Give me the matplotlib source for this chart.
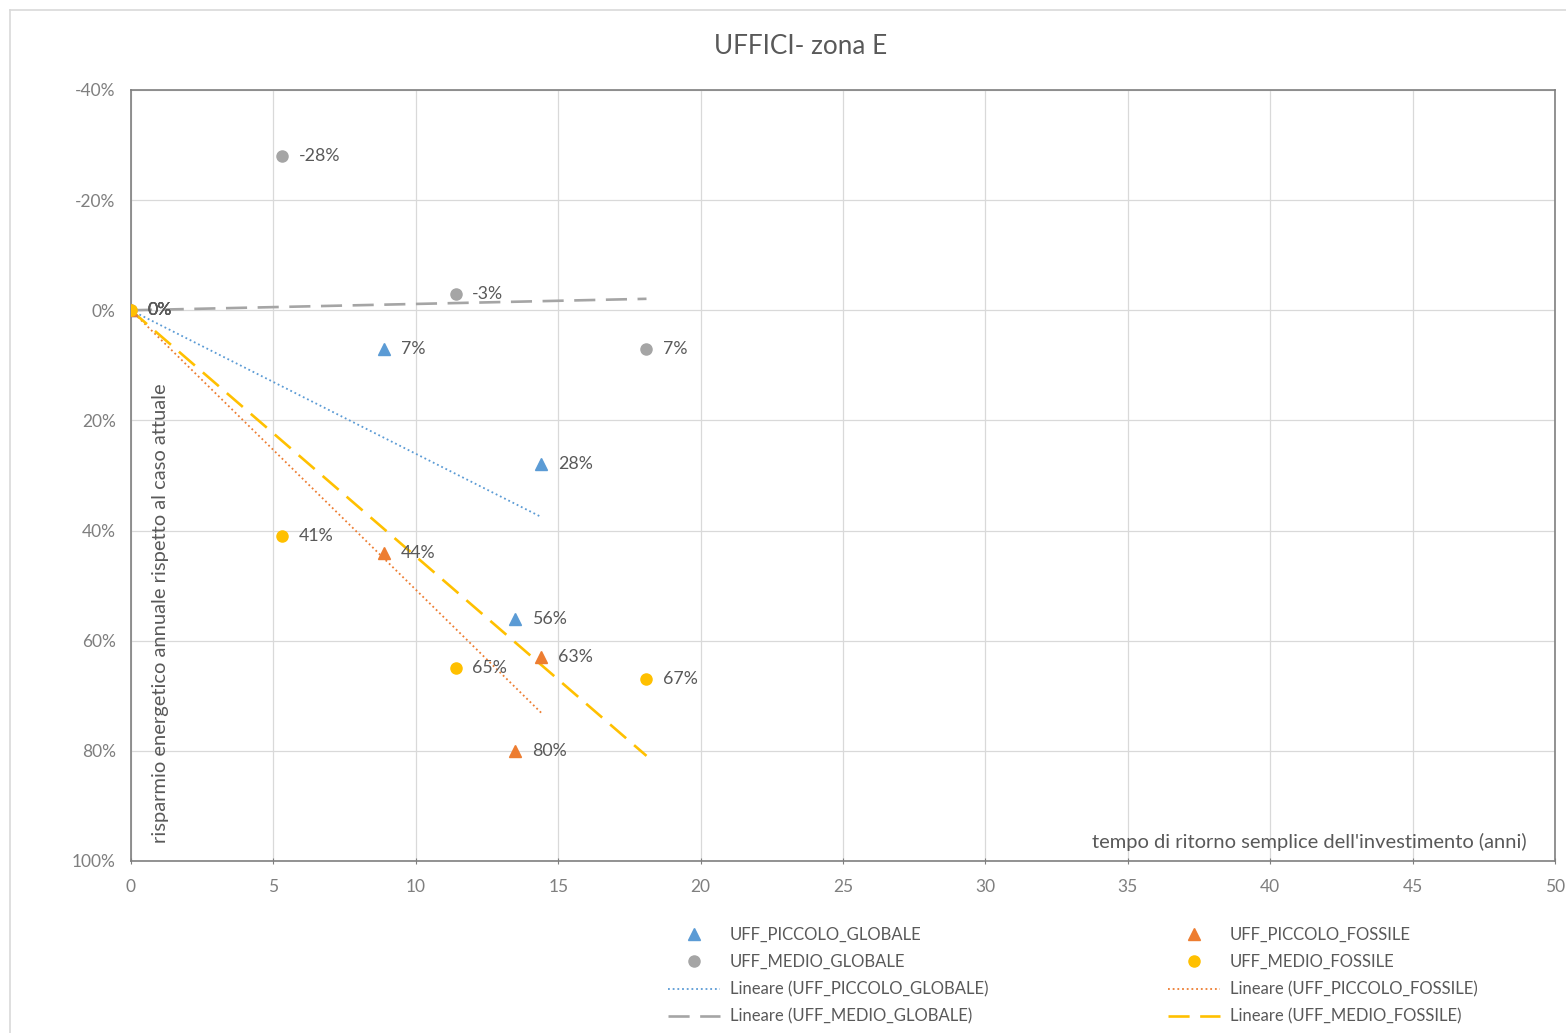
import numpy as np
import matplotlib.pyplot as plt
from matplotlib.lines import Line2D

plt.rcParams['font.family'] = ['Lato', 'DejaVu Sans']

# tempo di ritorno (anni) e risparmio (%) per ogni serie
x_piccolo = [0, 8.9, 14.4, 13.5]
x_medio = [0, 5.3, 11.4, 18.1]
piccolo_globale = [0, 7, 28, 56]
medio_globale = [0, -28, -3, 7]
piccolo_fossile = [0, 44, 63, 80]
medio_fossile = [0, 41, 65, 67]

blu = '#5B9BD5'
grigio = '#A5A5A5'
arancio = '#ED7D31'
giallo = '#FFC000'
testo = '#595959'

punteggiato = (0, (1, 1.6))
tratteggio = (0, (8, 4))


def trend(x, y):
    # retta di tendenza lineare con intercetta a zero
    x = np.array(x, dtype=float)
    y = np.array(y, dtype=float)
    k = (x * y).sum() / (x * x).sum()
    xx = np.array([0, x.max()])
    return xx, k * xx


fig = plt.figure(figsize=(15.66, 10.33), dpi=100)
ax = fig.add_axes([131/1566, 1-861/1033, 1424/1566, 771/1033])

series = [(x_piccolo, piccolo_globale, blu, '^', punteggiato, 1.3),
          (x_medio, medio_globale, grigio, 'o', tratteggio, 1.9),
          (x_piccolo, piccolo_fossile, arancio, '^', punteggiato, 1.3),
          (x_medio, medio_fossile, giallo, 'o', tratteggio, 1.9)]

# linee di tendenza
for x, y, c, m, ls, lw in series:
    tx, ty = trend(x, y)
    ax.plot(tx, ty, color=c, lw=lw, ls=ls, zorder=2)

# punti con etichette
for x, y, c, m, ls, lw in series:
    ax.plot(x, y, ls='none', marker=m, color=c, ms=8, zorder=3)
    for xi, yi in zip(x, y):
        ax.annotate('%d%%' % yi, (xi, yi), xytext=(12, 0), textcoords='offset points',
                    va='center', ha='left', fontsize=12.8, color=testo, zorder=4)

ax.set_xlim(0, 50)
ax.set_ylim(100, -40)
ax.set_xticks(np.arange(0, 51, 5))
ax.set_yticks(np.arange(-40, 101, 20))
ax.set_yticklabels(['%d%%' % v for v in np.arange(-40, 101, 20)])
ax.grid(True, color='#D9D9D9', lw=0.9)
ax.set_axisbelow(True)
for s in ax.spines.values():
    s.set_color('#7F7F7F')
    s.set_linewidth(1.2)
ax.tick_params(axis='y', length=0, pad=11, labelsize=12.5, labelcolor='#7F7F7F')
ax.tick_params(axis='x', length=4, direction='inout', color='#7F7F7F',
               pad=11, labelsize=12.5, labelcolor='#7F7F7F')

ax.text(0.0204, 0.023, 'risparmio energetico annuale rispetto al caso attuale',
        transform=ax.transAxes, rotation=90, ha='center', va='bottom',
        fontsize=14.5, color=testo)
ax.text(0.980, 0.013, "tempo di ritorno semplice dell'investimento (anni)",
        transform=ax.transAxes, ha='right', va='bottom', fontsize=14.5, color=testo)

fig.text(0.511, 1-47/1033, 'UFFICI- zona E', ha='center', va='center',
         fontsize=18.8, color=testo)

# legenda in due colonne
h1 = [Line2D([], [], ls='none', marker='^', color=blu, ms=8),
      Line2D([], [], ls='none', marker='o', color=grigio, ms=8),
      Line2D([], [], color=blu, lw=1.3, ls=punteggiato),
      Line2D([], [], color=grigio, lw=1.9, ls=tratteggio)]
l1 = ['UFF_PICCOLO_GLOBALE', 'UFF_MEDIO_GLOBALE',
      'Lineare (UFF_PICCOLO_GLOBALE)', 'Lineare (UFF_MEDIO_GLOBALE)']
h2 = [Line2D([], [], ls='none', marker='^', color=arancio, ms=8),
      Line2D([], [], ls='none', marker='o', color=giallo, ms=8),
      Line2D([], [], color=arancio, lw=1.3, ls=punteggiato),
      Line2D([], [], color=giallo, lw=1.9, ls=tratteggio)]
l2 = ['UFF_PICCOLO_FOSSILE', 'UFF_MEDIO_FOSSILE',
      'Lineare (UFF_PICCOLO_FOSSILE)', 'Lineare (UFF_MEDIO_FOSSILE)']

for h, l, x0 in [(h1, l1, 668/1566), (h2, l2, 1168/1566)]:
    leg = fig.legend(h, l, loc='upper left', bbox_to_anchor=(x0, 1-927/1033),
                     frameon=False, fontsize=12, handlelength=3.1,
                     handletextpad=0.6, labelspacing=0.67, borderpad=0,
                     borderaxespad=0)
    for t in leg.get_texts():
        t.set_color(testo)

# bordo dell'area del grafico
fig.add_artist(Line2D([10/1566, 10/1566], [0, 1-10/1033], color='#D9D9D9',
                      lw=1.2, transform=fig.transFigure))
fig.add_artist(Line2D([10/1566, 1], [1-10/1033, 1-10/1033], color='#D9D9D9',
                      lw=1.2, transform=fig.transFigure))

fig.savefig('out.png', dpi=100, facecolor='white')
